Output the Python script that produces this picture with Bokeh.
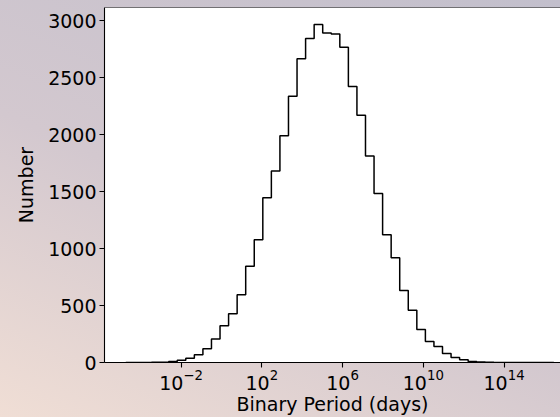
import numpy as np
from bokeh.plotting import figure
from bokeh.models import Range1d, FixedTicker, Span, LogTickFormatter
from bokeh.embed import file_html
from bokeh.resources import INLINE

# ---- data ----
log_period_min = -4.73   # log10(days) of the first bin edge
log_period_max = 16.46   # log10(days) of the last bin edge
n_bins = 50
counts = [1, 0, 1, 2, 3, 8, 19, 38, 68, 120,
          206, 323, 428, 594, 846, 1078, 1446, 1681, 1992, 2339,
          2668, 2845, 2968, 2893, 2885, 2768, 2424, 2172, 1813, 1484,
          1121, 920, 633, 458, 290, 185, 140, 80, 45, 24,
          9, 4, 2, 1, 1, 0, 0, 0, 0, 1]
x_ticks = [1e-2, 1e2, 1e6, 1e10, 1e14]
y_ticks = [0, 500, 1000, 1500, 2000, 2500, 3000]

edges = 10 ** np.linspace(log_period_min, log_period_max, n_bins + 1)
xs = [edges[0]] + list(edges)
ys = [0] + counts + [0]

FONT = "DejaVu Sans"

p = figure(width=560, height=417, x_axis_type="log",
           x_range=Range1d(10 ** -5.79, 10 ** 16.795),
           y_range=Range1d(0, 3118),
           output_backend="svg", toolbar_location=None,
           min_border_left=104, min_border_right=0,
           min_border_top=7, min_border_bottom=55)

p.step(xs, ys, mode="after", line_color="black", line_width=1.5)

p.background_fill_color = "white"
p.border_fill_alpha = 0
p.outline_line_color = None
p.grid.visible = False
p.styles = {"background": "linear-gradient(205deg, #c2bfcc 0%, #d3c8cf 55%, #f0ded5 100%)"}

p.add_layout(Span(location=3118, dimension="width", line_color="black", line_width=1.1))

for ax in (p.xaxis[0], p.yaxis[0]):
    ax.axis_line_color = "black"
    ax.axis_line_width = 1.1
    ax.major_tick_line_color = "black"
    ax.major_tick_line_width = 1.1
    ax.major_tick_out = 5
    ax.major_tick_in = 0
    ax.minor_tick_line_color = None
    ax.major_label_text_font = FONT
    ax.major_label_text_font_size = "19px"
    ax.major_label_text_color = "black"
    ax.axis_label_text_font = FONT
    ax.axis_label_text_font_size = "19px"
    ax.axis_label_text_font_style = "normal"
    ax.axis_label_text_color = "black"
    ax.major_label_standoff = 3

p.xaxis.ticker = FixedTicker(ticks=x_ticks, minor_ticks=[])
p.xaxis.formatter = LogTickFormatter()
p.yaxis.ticker = FixedTicker(ticks=y_ticks, minor_ticks=[])
p.xaxis.axis_label = "Binary Period (days)"
p.yaxis.axis_label = "Number"
p.xaxis.major_label_standoff = 1
p.xaxis.axis_label_standoff = 0
p.yaxis.axis_label_standoff = 8

with open("out.html", "w") as f:
    f.write(file_html(p, INLINE))
